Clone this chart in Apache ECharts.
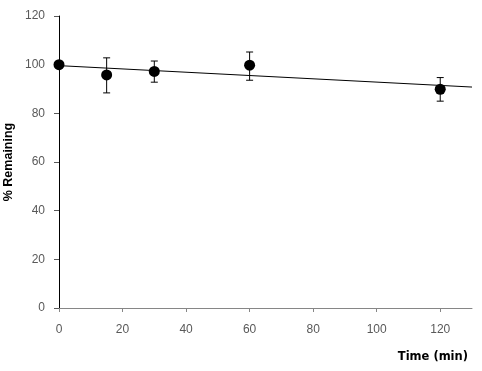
<!DOCTYPE html>
<html><head><meta charset="utf-8">
<script src="https://cdn.jsdelivr.net/npm/echarts@6/dist/echarts.min.js"></script>
<style>html,body{margin:0;padding:0;background:#fff}#c{width:482px;height:371px}</style>
</head><body><div id="c"></div>
<script>
const timeMin = [0, 15, 30, 60, 120];
const remaining = [100, 95.8, 97.2, 99.8, 89.9];
const errLow = [100, 88.4, 92.8, 93.6, 85.0];
const errHigh = [100, 102.8, 101.5, 105.2, 94.7];
const trendX = [0, 130];
const trendY = [99.6, 90.8];
const xTicks = [0, 20, 40, 60, 80, 100, 120];
const yTicks = [0, 20, 40, 60, 80, 100, 120];

const chart = echarts.init(document.getElementById('c'));
const labelFont = { color: '#595959', fontSize: 12, fontFamily: 'Liberation Sans, Arial, sans-serif' };
chart.setOption({
  animation: false,
  title: {
    text: 'Time (min)', right: 9, bottom: 3,
    textStyle: { fontSize: 11.5, fontWeight: 'bold', color: '#000', fontFamily: 'DejaVu Sans, sans-serif' }
  },
  grid: { left: 59, right: 10, top: 16, bottom: 63, containLabel: false, outerBoundsMode: 'none' },
  xAxis: {
    type: 'value', min: 0, max: 130, interval: 20,
    axisLine: { lineStyle: { color: '#868686', width: 1 } },
    axisTick: { show: true, length: 4, inside: false, lineStyle: { color: '#868686' },
      customValues: xTicks },
    axisLabel: Object.assign({ margin: 16, customValues: xTicks }, labelFont),
    splitLine: { show: false }
  },
  yAxis: {
    type: 'value', min: 0, max: 120, interval: 20,
    name: '% Remaining', nameLocation: 'middle', nameRotate: 90, nameGap: 44, nameMoveOverlap: false,
    nameTextStyle: { fontSize: 12.5, fontWeight: 'bold', color: '#000', fontFamily: 'Liberation Sans, Arial, sans-serif' },
    axisLine: { show: true, lineStyle: { color: '#000', width: 1 } },
    axisTick: { show: true, length: 5, lineStyle: { color: '#595959' }, customValues: yTicks },
    axisLabel: Object.assign({ margin: 14, customValues: yTicks }, labelFont),
    splitLine: { show: false }
  },
  series: [
    {
      type: 'line', data: trendX.map((x, i) => [x, trendY[i]]),
      symbol: 'none', lineStyle: { color: '#000', width: 1 }, z: 1
    },
    {
      type: 'custom', z: 2,
      data: timeMin.map((x, i) => [x, errLow[i], errHigh[i]]),
      renderItem: function (params, api) {
        const lo = api.coord([api.value(0), api.value(1)]);
        const hi = api.coord([api.value(0), api.value(2)]);
        const w = 3.5;
        const st = { stroke: '#000', lineWidth: 1 };
        return { type: 'group', children: [
          { type: 'line', shape: { x1: hi[0], y1: hi[1], x2: lo[0], y2: lo[1] }, style: st },
          { type: 'line', shape: { x1: hi[0] - w, y1: hi[1], x2: hi[0] + w, y2: hi[1] }, style: st },
          { type: 'line', shape: { x1: lo[0] - w, y1: lo[1], x2: lo[0] + w, y2: lo[1] }, style: st }
        ]};
      }
    },
    {
      type: 'scatter', z: 3,
      data: timeMin.map((x, i) => [x, remaining[i]]),
      symbol: 'circle', symbolSize: 11,
      itemStyle: { color: '#000', opacity: 1 }
    }
  ]
});
</script></body></html>
